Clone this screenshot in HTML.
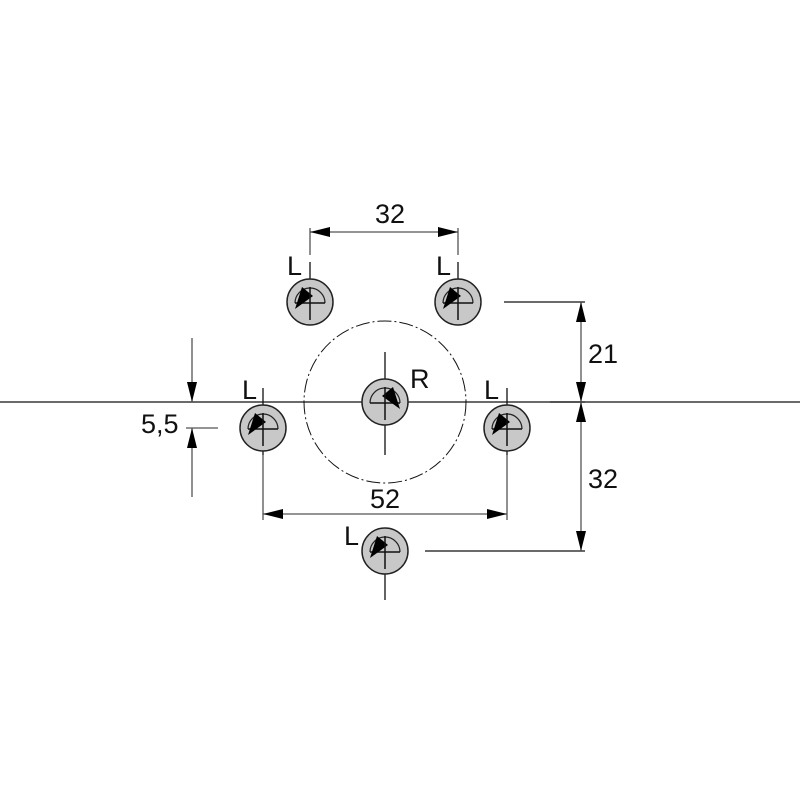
<!DOCTYPE html>
<html><head><meta charset="utf-8"><style>
html,body{margin:0;padding:0;background:#fff}
svg{display:block}
text{font-family:"Liberation Sans",sans-serif;font-size:27px;fill:#111}
</style></head><body>
<svg width="800" height="800" viewBox="0 0 800 800" xmlns="http://www.w3.org/2000/svg">
<defs>
<marker id="a" viewBox="0 0 20 10" refX="20" refY="5" markerWidth="20" markerHeight="10" markerUnits="userSpaceOnUse" orient="auto-start-reverse"><path d="M0,0L20,5L0,10z" fill="#000"/></marker>
<g id="holeL">
<circle r="23" fill="#c8c8c8" stroke="#222" stroke-width="1.5"/>
<path d="M-15,1 A15,15 0 0 1 15,1" fill="none" stroke="#222" stroke-width="1.2"/>
<line x1="-15" y1="1" x2="15" y2="1" stroke="#111" stroke-width="1.5"/>
<path d="M-15,7 L-8,-15 L3,-6 z" fill="#000"/>
</g>
<g id="holeR">
<circle r="23" fill="#c8c8c8" stroke="#222" stroke-width="1.5"/>
<path d="M-15,1 A15,15 0 0 1 15,1" fill="none" stroke="#222" stroke-width="1.2"/>
<line x1="-15" y1="1" x2="15" y2="1" stroke="#111" stroke-width="1.5"/>
<path d="M15,7 L8,-15 L-3,-6 z" fill="#000"/>
</g>
</defs>
<g stroke="#111" stroke-width="1.3" fill="none">
<line x1="0" y1="402" x2="800" y2="402"/>
<circle cx="385" cy="402" r="81" stroke-width="1" stroke-dasharray="14,3,2,3"/>
<line x1="310" y1="262" x2="310" y2="320"/><line x1="458" y1="262" x2="458" y2="320"/>
<line x1="385" y1="352" x2="385" y2="455"/>
<line x1="263" y1="388" x2="263" y2="455"/><line x1="507" y1="388" x2="507" y2="455"/>
<line x1="385" y1="528" x2="385" y2="600"/>
<line x1="310" y1="228" x2="310" y2="255" stroke="#555"/><line x1="458" y1="228" x2="458" y2="255" stroke="#555"/>
<line x1="310" y1="232" x2="458" y2="232" stroke="#555" marker-start="url(#a)" marker-end="url(#a)"/>
<line x1="263" y1="455" x2="263" y2="520" stroke="#555"/><line x1="507" y1="455" x2="507" y2="520" stroke="#555"/>
<line x1="263" y1="514" x2="507" y2="514" stroke="#555" marker-start="url(#a)" marker-end="url(#a)"/>
<line x1="504" y1="302" x2="585" y2="302"/>
<line x1="550" y1="402" x2="585" y2="402"/>
<line x1="425" y1="551" x2="585" y2="551"/>
<line x1="581" y1="302" x2="581" y2="402" stroke="#555" marker-start="url(#a)" marker-end="url(#a)"/>
<line x1="581" y1="402" x2="581" y2="551" stroke="#555" marker-start="url(#a)" marker-end="url(#a)"/>
<line x1="192" y1="338" x2="192" y2="402" stroke="#555" marker-end="url(#a)"/>
<line x1="192" y1="497" x2="192" y2="428" stroke="#555" marker-end="url(#a)"/>
<line x1="186" y1="428" x2="218" y2="428" stroke="#555"/>
</g>
<use href="#holeL" x="310" y="302"/>
<use href="#holeL" x="458" y="302"/>
<use href="#holeR" x="385" y="402"/>
<use href="#holeL" x="263" y="428"/>
<use href="#holeL" x="507" y="428"/>
<use href="#holeL" x="385" y="551"/>
<g stroke="#111" stroke-width="1.5">
<line x1="310" y1="287" x2="310" y2="320"/><line x1="458" y1="287" x2="458" y2="320"/>
<line x1="385" y1="387" x2="385" y2="420"/>
<line x1="263" y1="413" x2="263" y2="446"/><line x1="507" y1="413" x2="507" y2="446"/>
<line x1="385" y1="536" x2="385" y2="569"/>
</g>
<text x="390" y="223" text-anchor="middle">32</text>
<text x="287" y="275">L</text>
<text x="436" y="275">L</text>
<text x="242" y="399">L</text>
<text x="484" y="399">L</text>
<text x="410" y="388">R</text>
<text x="344" y="545">L</text>
<text x="385" y="508" text-anchor="middle">52</text>
<text x="588" y="363">21</text>
<text x="588" y="488">32</text>
<text x="141" y="433">5,5</text>
</svg>
</body></html>
